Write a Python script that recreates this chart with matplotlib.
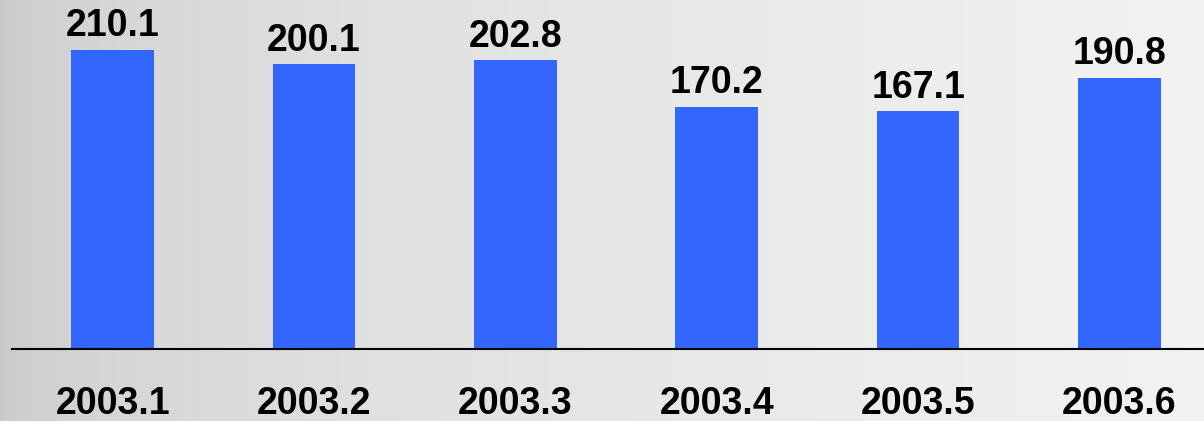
import numpy as np
import matplotlib.pyplot as plt

months = ['2003.1', '2003.2', '2003.3', '2003.4', '2003.5', '2003.6']
values = [210.1, 200.1, 202.8, 170.2, 167.1, 190.8]

plt.rcParams['font.family'] = ['Liberation Sans', 'DejaVu Sans']

fig = plt.figure(figsize=(12.04, 4.21), dpi=100)

# grey gradient background, darker on the left
bg = fig.add_axes([0, 0, 1, 1])
grad = np.linspace(0, 1, 256) ** 0.5
left = np.array([0.79, 0.79, 0.79])
right = np.array([0.95, 0.95, 0.955])
img = left[None, :] + (right - left)[None, :] * grad[:, None]
bg.imshow(img[None, :, :], aspect='auto', extent=[0, 1, 0, 1])
bg.set_axis_off()

# axes from x=12px to right edge, baseline at y=349px
ax = fig.add_axes([12 / 1204, 72 / 421, 1192 / 1204, 349 / 421])
ax.patch.set_alpha(0)
x = np.arange(len(months))
ax.bar(x, values, width=0.41, color='#3366ff')
ax.set_xlim(-0.5, 5.42)
ax.set_ylim(0, 245.3)

for xi, v in zip(x, values):
    ax.text(xi, v + 4, f'{v:.1f}', ha='center', va='bottom',
            fontsize=27, fontweight='bold')

ax.set_xticks(x)
ax.set_xticklabels(months, fontsize=27, fontweight='bold')
ax.tick_params(axis='x', length=0, pad=27)
ax.set_yticks([])
for side in ['top', 'left', 'right']:
    ax.spines[side].set_visible(False)
ax.spines['bottom'].set_linewidth(1.5)

fig.savefig('out.png', dpi=100)
